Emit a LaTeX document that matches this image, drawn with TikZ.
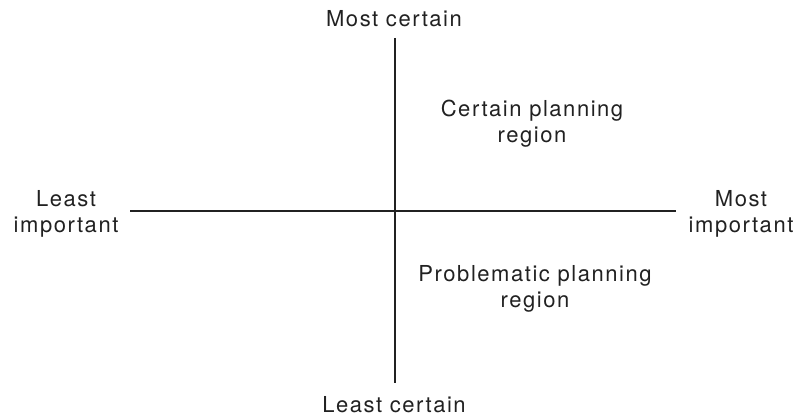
\documentclass[tikz,border=0pt]{standalone}
\usepackage{fontspec}
\setmainfont{TeX Gyre Heros}[LetterSpace=7]
\begin{document}
\begin{tikzpicture}[x=1pt,y=-1pt,
  lbl/.style={inner sep=0pt,anchor=base,align=center,font=\fontsize{22}{26}\selectfont,text=black!87},
  axis/.style={line width=1.3pt,black!87}]
\useasboundingbox (0,0) rectangle (799,419);
\coordinate (top) at (395,38);
\coordinate (bot) at (395,383);
\coordinate (lft) at (130,211);
\coordinate (rgt) at (676,211);
\draw[axis] (top) -- (bot);
\draw[axis] (lft) -- (rgt);
\node[lbl] (mc) at (394,27) {Most certain};
\node[lbl] (lc) at (394,412) {Least certain};
\node[lbl] (li) at (66,233) {Least\\important};
\node[lbl] (mi) at (741,233) {Most\\important};
\node[lbl] (cp) at (532,143) {Certain planning\\region};
\node[lbl] (pp) at (535,307) {Problematic planning\\region};
\end{tikzpicture}
\end{document}
